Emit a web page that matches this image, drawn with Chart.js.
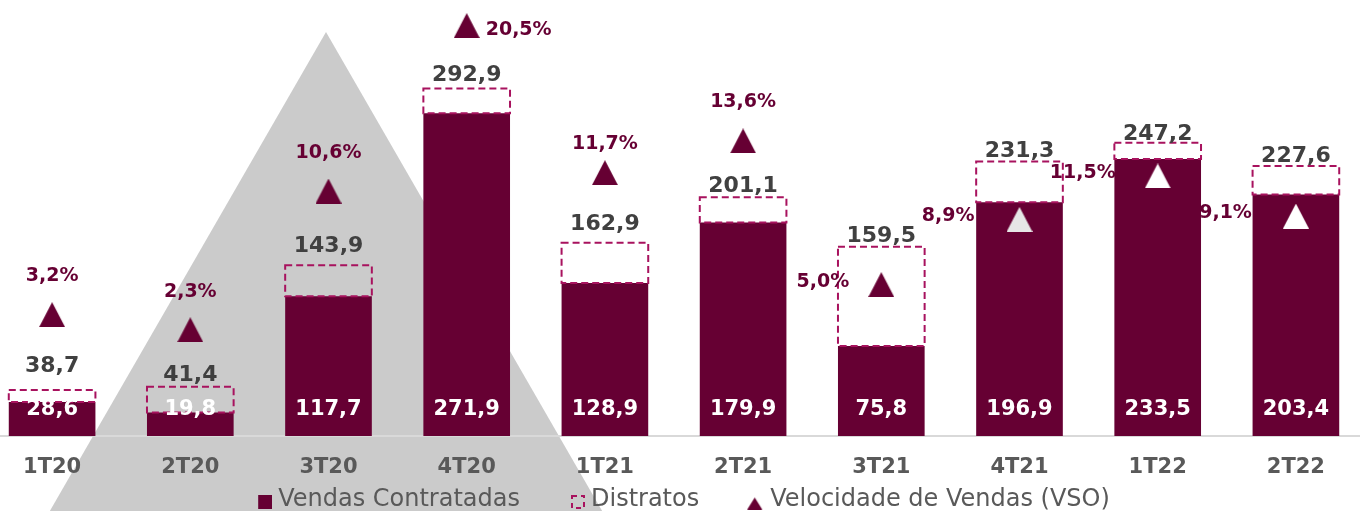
<!DOCTYPE html>
<html><head><meta charset="utf-8">
<script src="https://cdn.jsdelivr.net/npm/chart.js@4.4.1/dist/chart.umd.min.js"></script>
<style>
html,body{margin:0;padding:0;background:#fff;overflow:hidden;width:1360px;height:511px;}
#wrap{position:absolute;left:-17px;top:0;width:1382px;height:522px;}
</style></head><body>
<div id="wrap"><canvas id="c"></canvas></div>
<script>
// ---- data ----
const categories = ['1T20','2T20','3T20','4T20','1T21','2T21','3T21','4T21','1T22','2T22'];
const vendasContratadas = [28.6, 19.8, 117.7, 271.9, 128.9, 179.9, 75.8, 196.9, 233.5, 203.4];
const totalComDistratos = [38.7, 41.4, 143.9, 292.9, 162.9, 201.1, 159.5, 231.3, 247.2, 227.6];
const vso = [3.2, 2.3, 10.6, 20.5, 11.7, 13.6, 5.0, 8.9, 11.5, 9.1];
const legendLabels = ['Vendas Contratadas', 'Distratos', 'Velocidade de Vendas (VSO)'];

// ---- label placement styles (not data) ----
const vsoLabelSide = ['top','top','top','right','top','top','left','left','left','left'];
const vsoLabelGap  = [39, 38, 38, 19, 29, 39, 32, 45, 42, 44];
const totalLabelGap = [24, 12, 19, 13, 18, 11, 10, 10, 8, 10];

const MAROON = '#660033', DASH = '#a8125e', GREY_TXT = '#595959', DARK_TXT = '#404040';
const vsoMarkerColors = [MAROON,MAROON,MAROON,MAROON,MAROON,MAROON,MAROON,'#e6e6e6','#ffffff','#ffffff'];
const fmt = v => v.toFixed(1).replace('.', ',');

function triCanvas(w, h, color, W, H, rightGap) {
  W = W || w; H = H || h; rightGap = rightGap || 0;
  const c = document.createElement('canvas'); c.width = W; c.height = H;
  const g = c.getContext('2d'); g.fillStyle = color;
  const x0 = W - w - rightGap, y0 = H - h;
  g.beginPath(); g.moveTo(x0 + w/2, y0); g.lineTo(x0 + w, y0 + h); g.lineTo(x0, y0 + h); g.closePath(); g.fill();
  return c;
}
const markerImgs = vsoMarkerColors.map(c => triCanvas(26, 25, c));

// legend markers (marker at the right of a wider transparent canvas)
const LW = 64, LH = 20;
function legSquare() {
  const c = document.createElement('canvas'); c.width = LW; c.height = LH;
  const g = c.getContext('2d'); g.fillStyle = MAROON; g.fillRect(LW - 14, LH - 15, 14, 14); return c;
}
function legDashed() {
  const c = document.createElement('canvas'); c.width = LW; c.height = LH;
  const g = c.getContext('2d'); g.strokeStyle = DASH; g.lineWidth = 2; g.setLineDash([5, 4]);
  g.strokeRect(LW - 13, LH - 14, 12, 12); return c;
}
const legendImgs = [legSquare(), legDashed(), triCanvas(15, 12, MAROON, LW, LH - 1, 2)];

const decor = {
  id: 'decor',
  afterLayout(chart) {
    if (chart.legend) { chart.legend.left -= 12; chart.legend.right -= 12; }
  },
  beforeDraw(chart) {
    const ctx = chart.ctx, h = chart.height;
    const apexX = 343, apexY = 32, slope = 0.5765;
    ctx.save(); ctx.fillStyle = '#cbcbcb';
    ctx.beginPath(); ctx.moveTo(apexX, apexY);
    ctx.lineTo(apexX + slope * (h - apexY), h); ctx.lineTo(apexX - slope * (h - apexY), h);
    ctx.closePath(); ctx.fill(); ctx.restore();
  },
  afterDatasetsDraw(chart) {
    const ctx = chart.ctx;
    const barMeta = chart.getDatasetMeta(0), boxMeta = chart.getDatasetMeta(1), vsoMeta = chart.getDatasetMeta(2);
    ctx.save();
    ctx.strokeStyle = DASH; ctx.lineWidth = 2; ctx.setLineDash([7, 4]);
    boxMeta.data.forEach(el => {
      const p = el.getProps(['x','y','base','width'], true);
      ctx.strokeRect(p.x - p.width/2, p.y, p.width, p.base - p.y);
    });
    ctx.setLineDash([]);
    ctx.textBaseline = 'middle'; ctx.textAlign = 'center';
    ctx.font = 'bold 21px "DejaVu Sans"'; ctx.fillStyle = '#ffffff';
    barMeta.data.forEach((el, i) => ctx.fillText(fmt(vendasContratadas[i]), el.x, el.base - 26));
    ctx.font = 'bold 22px "DejaVu Sans"'; ctx.fillStyle = DARK_TXT;
    boxMeta.data.forEach((el, i) => ctx.fillText(fmt(totalComDistratos[i]), el.x, el.y - totalLabelGap[i]));
    ctx.font = 'bold 19px "DejaVu Sans"'; ctx.fillStyle = MAROON;
    vsoMeta.data.forEach((el, i) => {
      const s = vsoLabelSide[i], t = fmt(vso[i]) + '%', gap = vsoLabelGap[i];
      if (s === 'top') { ctx.textAlign = 'center'; ctx.fillText(t, el.x, el.y - gap); }
      else if (s === 'right') { ctx.textAlign = 'left'; ctx.fillText(t, el.x + gap, el.y + 4); }
      else { ctx.textAlign = 'right'; ctx.fillText(t, el.x - gap, el.y - 3); }
    });
    ctx.restore();
  }
};

new Chart(document.getElementById('c'), {
  data: {
    labels: categories,
    datasets: [
      { type: 'bar', label: legendLabels[0], data: vendasContratadas, backgroundColor: MAROON,
        borderWidth: 0, grouped: false, barPercentage: 0.627, categoryPercentage: 1, yAxisID: 'y', order: 2 },
      { type: 'bar', label: legendLabels[1], data: vendasContratadas.map((v, i) => [v, totalComDistratos[i]]),
        backgroundColor: 'rgba(0,0,0,0)', borderWidth: 0, grouped: false, barPercentage: 0.627, categoryPercentage: 1,
        yAxisID: 'y', order: 1 },
      { type: 'line', label: legendLabels[2], data: vso, showLine: false, pointStyle: markerImgs,
        pointRadius: 13, yAxisID: 'y2', order: 0, clip: false }
    ]
  },
  options: {
    responsive: true, maintainAspectRatio: false, animation: false, events: [],
    layout: { padding: 0, autoPadding: false },
    scales: {
      x: {
        grid: { display: false, drawTicks: false },
        border: { display: true, color: '#d9d9d9', width: 2 },
        ticks: { color: GREY_TXT, font: { family: 'DejaVu Sans', size: 21, weight: 'bold' }, padding: 19 },
        afterFit(s) { s.height = 45; }
      },
      y: { display: false, min: 0, max: 367.4 },
      y2: { display: false, min: -4.06, max: 22.03, position: 'right' }
    },
    plugins: {
      tooltip: { enabled: false },
      legend: {
        position: 'bottom',
        labels: {
          usePointStyle: true, pointStyleWidth: 52, padding: 7, color: GREY_TXT,
          font: { family: 'DejaVu Sans', size: 24 },
          generateLabels: () => legendLabels.map((t, i) => ({
            text: t, pointStyle: legendImgs[i], fillStyle: 'rgba(0,0,0,0)', strokeStyle: 'rgba(0,0,0,0)',
            lineWidth: 0, hidden: false, datasetIndex: i, fontColor: GREY_TXT
          }))
        }
      }
    }
  },
  plugins: [decor]
});
</script></body></html>
